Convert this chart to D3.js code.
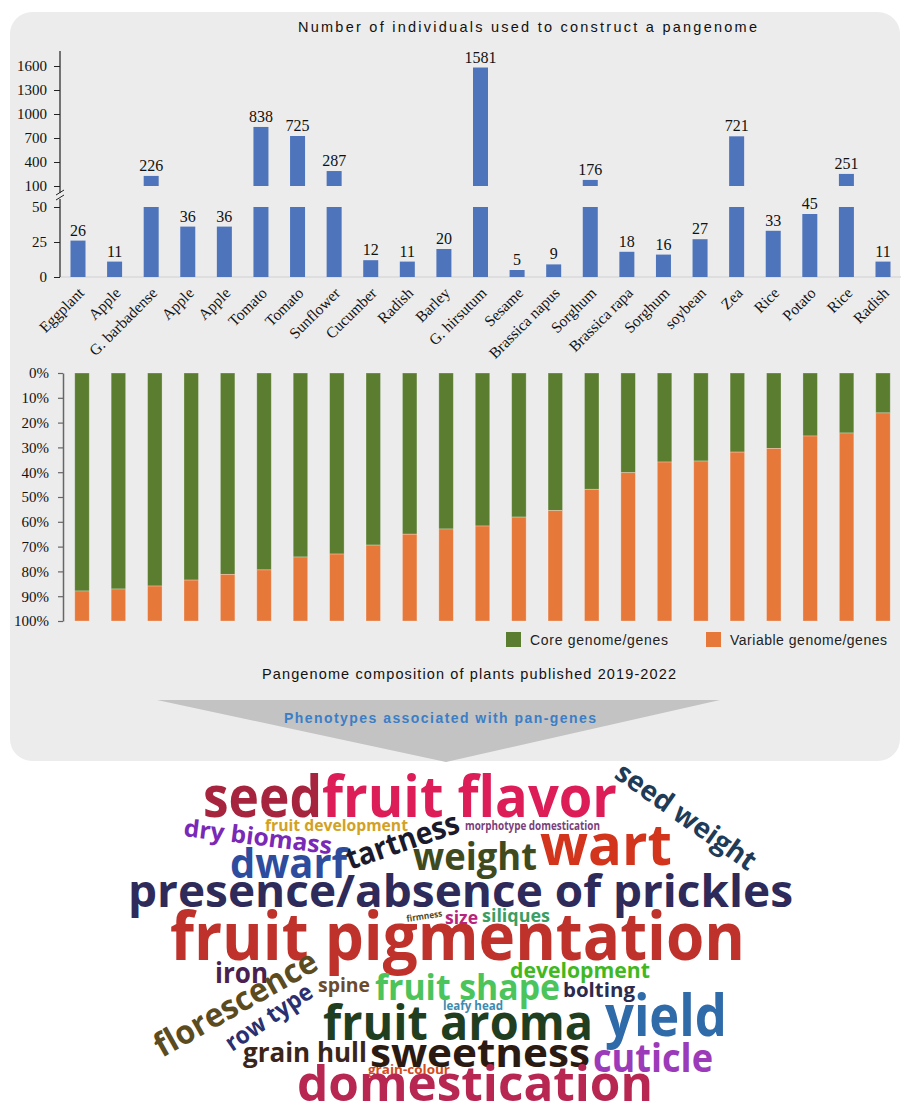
<!DOCTYPE html>
<html><head><meta charset="utf-8">
<script src="https://cdn.jsdelivr.net/npm/d3@7/dist/d3.min.js"></script>
<style>body{margin:0;background:#fff}svg{display:block}</style>
</head><body>
<svg id="c" width="903" height="1115"></svg>
<script>
// ---------- DATA ----------
const species = ["Eggplant","Apple","G. barbadense","Apple","Apple","Tomato","Tomato","Sunflower","Cucumber","Radish","Barley","G. hirsutum","Sesame","Brassica napus","Sorghum","Brassica rapa","Sorghum","soybean","Zea","Rice","Potato","Rice","Radish"];
const individuals = [26,11,226,36,36,838,725,287,12,11,20,1581,5,9,176,18,16,27,721,33,45,251,11];
const lowTicks = [0,25,50];
const highTicks = [100,400,700,1000,1300,1600];
const corePct = [87.9,87.1,85.9,83.5,81.2,79.4,74.2,73.0,69.4,65.0,62.9,61.7,58.1,55.5,46.9,40.2,35.9,35.5,31.9,30.4,25.4,24.2,16.1];
const pctTicks = [0,10,20,30,40,50,60,70,80,90,100];
const seriesNames = ["Core genome/genes","Variable genome/genes"];
const phenotypes = ["seed","fruit flavor","dry biomass","fruit development","tartness","morphotype domestication","seed weight","dwarf","weight","wart","presence/absence of prickles","fruit pigmentation","firmness","size","siliques","iron","florescence","row type","spine","fruit shape","development","bolting","leafy head","fruit aroma","yield","grain hull","sweetness","cuticle","grain-colour","domestication"];

// ---------- LAYOUT / STYLE ----------
const BLUE = "#4e74bb", GREEN = "#5b7d2f", ORANGE = "#e6783a";
const serif = "'Liberation Serif','Times New Roman',serif";
const sans = "'Liberation Sans',Arial,sans-serif";
// word cloud placement: x, baseline y, font size, rotation, fitted width, colour
const cloudLayout = [
 [203, 817, 57, 0, 119, "#a6243d"],
 [322, 817, 57, 0, 295, "#dd1d58"],
 [183, 836, 24, 7, 149, "#7a29b6"],
 [265, 831, 16, 0, 143, "#d3a124"],
 [350, 870, 31, -19, 118, "#1b1a2c"],
 [465, 830, 12, 0, 135, "#7b3f7a"],
 [613, 777, 28, 35, 165, "#1f3b57"],
 [230, 878, 41, 0, 117, "#2d4c9e"],
 [413, 870, 37, 0, 124, "#3f4a1f"],
 [540, 865, 58, 0, 132, "#d3341c"],
 [128, 907, 44, 0, 665, "#2e2b5b"],
 [170, 960, 66, 0, 575, "#bf312b"],
 [407, 922, 9, -9, 36, "#4a4a2a"],
 [445, 924, 17, 0, 33, "#b8247a"],
 [482, 922, 17, 0, 68, "#3a9e62"],
 [215, 983, 28, 0, 53, "#4b1f4f"],
 [162, 1058, 33, -29.5, 182, "#5b4b1f"],
 [232, 1052, 24, -34, 100, "#2b2f6f"],
 [318, 992, 20, 0, 52, "#6b4b2b"],
 [375, 1000, 35, 0, 185, "#4bc45b"],
 [510, 978, 21, 0, 140, "#41b821"],
 [563, 997, 20, 0, 72, "#2b2b4f"],
 [443, 1010, 13, 0, 60, "#3c8bb1"],
 [323, 1040, 49, 0, 270, "#1f3f20"],
 [605, 1036, 58, 0, 122, "#2f6aa9"],
 [243, 1062, 26, 0, 124, "#3b2519"],
 [370, 1067, 40, 0, 220, "#2b1a11"],
 [593, 1072, 40, 0, 120, "#9b3bb9"],
 [368, 1074, 13, 0, 82, "#d54b1b"],
 [297, 1101, 48, 0, 356, "#b82752"]
];

const svg = d3.select("#c");

// panel background
svg.append("rect").attr("x",10).attr("y",12).attr("width",890).attr("height",749)
  .attr("rx",22).attr("fill","#ececec");

// ---------- TOP CHART ----------
svg.append("text").attr("x",298).attr("y",32).attr("textLength",459).attr("lengthAdjust","spacing")
  .attr("font-family",sans).attr("font-size",14.5).attr("fill","#111")
  .text("Number of individuals used to construct a pangenome");

const x = d3.scalePoint().domain(d3.range(species.length)).range([78,883]);
const yLow = d3.scaleLinear().domain([0,50]).range([277,207]);
const yHigh = d3.scaleLinear().domain([100,1600]).range([186,66]);
const bw = 15;

// baseline
svg.append("line").attr("x1",60).attr("x2",901).attr("y1",yLow(0)).attr("y2",yLow(0))
  .attr("stroke","#cfcfcf").attr("stroke-width",1.2);

const gTop = svg.append("g");
gTop.selectAll("rect.low").data(individuals).join("rect").attr("class","low")
  .attr("x",(d,i)=>x(i)-bw/2).attr("width",bw)
  .attr("y",d=>yLow(Math.min(d,50))).attr("height",d=>yLow(0)-yLow(Math.min(d,50)))
  .attr("fill",BLUE);
gTop.selectAll("rect.high").data(individuals.map((d,i)=>({d,i})).filter(o=>o.d>100)).join("rect").attr("class","high")
  .attr("x",o=>x(o.i)-bw/2).attr("width",bw)
  .attr("y",o=>yHigh(o.d)).attr("height",o=>yHigh(100)-yHigh(o.d))
  .attr("fill",BLUE);
gTop.selectAll("text.val").data(individuals).join("text").attr("class","val")
  .attr("x",(d,i)=>x(i)).attr("text-anchor","middle")
  .attr("y",d=>(d>100?yHigh(d):yLow(Math.min(d,50)))-5)
  .attr("font-family",serif).attr("font-size",16).attr("fill","#111")
  .text(d=>d);

// axes
const fmt = d3.format("d");
const axLow = svg.append("g").attr("transform","translate(60,0)")
  .call(d3.axisLeft(yLow).tickValues(lowTicks).tickFormat(fmt).tickSize(6).tickPadding(7));
const axHigh = svg.append("g").attr("transform","translate(60,0)")
  .call(d3.axisLeft(yHigh).tickValues(highTicks).tickFormat(fmt).tickSize(6).tickPadding(7));
[axLow,axHigh].forEach(a=>{
  a.select(".domain").remove();
  a.selectAll("text").attr("font-family",serif).attr("font-size",15).attr("fill","#111");
  a.selectAll("line").attr("stroke","#222");
});
svg.append("line").attr("x1",60).attr("x2",60).attr("y1",51).attr("y2",193).attr("stroke","#222").attr("stroke-width",1.2);
svg.append("line").attr("x1",60).attr("x2",60).attr("y1",199).attr("y2",yLow(0)).attr("stroke","#222").attr("stroke-width",1.2);
svg.append("line").attr("x1",56).attr("x2",64).attr("y1",195).attr("y2",190).attr("stroke","#222");
svg.append("line").attr("x1",56).attr("x2",64).attr("y1",200).attr("y2",195).attr("stroke","#222");

// x labels
svg.selectAll("text.cat").data(species).join("text").attr("class","cat")
  .attr("transform",(d,i)=>`translate(${x(i)+7},294) rotate(-45)`)
  .attr("text-anchor","end").attr("font-family",serif).attr("font-size",15.5).attr("fill","#111")
  .text(d=>d);

// ---------- STACKED CHART ----------
const xs = d3.scalePoint().domain(d3.range(corePct.length)).range([82,883]);
const ys = d3.scaleLinear().domain([0,100]).range([373,621]);
const sw = 14.5;
const st = svg.append("g");
st.selectAll("rect.core").data(corePct).join("rect").attr("class","core")
  .attr("x",(d,i)=>xs(i)-sw/2).attr("width",sw)
  .attr("y",ys(0)).attr("height",d=>ys(d)-ys(0))
  .attr("fill",GREEN).attr("stroke","#fff").attr("stroke-opacity",0.35).attr("stroke-width",0.8);
st.selectAll("rect.var").data(corePct).join("rect").attr("class","var")
  .attr("x",(d,i)=>xs(i)-sw/2).attr("width",sw)
  .attr("y",d=>ys(d)).attr("height",d=>ys(100)-ys(d))
  .attr("fill",ORANGE).attr("stroke","#fff").attr("stroke-opacity",0.35).attr("stroke-width",0.8);

const axP = svg.append("g").attr("transform","translate(63,0)")
  .call(d3.axisLeft(ys).tickValues(pctTicks).tickFormat(d=>d+"%").tickSize(5).tickSizeOuter(0).tickPadding(9));
axP.select(".domain").attr("stroke","#666").attr("stroke-width",1.5);
axP.selectAll("line").attr("stroke","#666").attr("stroke-width",1.2);
axP.selectAll("text").attr("font-family",serif).attr("font-size",15).attr("fill","#111");

// legend
const legX = [506,706], legW = [138,157];
seriesNames.forEach((n,i)=>{
  svg.append("rect").attr("x",legX[i]).attr("y",632).attr("width",15).attr("height",15)
    .attr("fill",i===0?GREEN:ORANGE);
  svg.append("text").attr("x",legX[i]+24).attr("y",645).attr("textLength",legW[i]).attr("lengthAdjust","spacing")
    .attr("font-family",sans).attr("font-size",14).attr("fill","#222").text(n);
});

svg.append("text").attr("x",262).attr("y",679).attr("textLength",414).attr("lengthAdjust","spacing")
  .attr("font-family",sans).attr("font-size",14.5).attr("fill","#111")
  .text("Pangenome composition of plants published 2019-2022");

// funnel
svg.append("path").attr("d","M157,700 L720,700 L446,762 Z").attr("fill","#c3c3c3");
svg.append("text").attr("x",284).attr("y",723).attr("textLength",312).attr("lengthAdjust","spacing")
  .attr("font-family",sans).attr("font-weight","bold").attr("font-size",14).attr("fill","#3b7ec6")
  .text("Phenotypes associated with pan-genes");

// ---------- WORD CLOUD ----------
svg.append("g").selectAll("text").data(phenotypes).join("text")
  .attr("transform",(d,i)=>`translate(${cloudLayout[i][0]},${cloudLayout[i][1]}) rotate(${cloudLayout[i][3]})`)
  .attr("font-family","'Open Sans',sans-serif").attr("font-weight",700)
  .attr("font-size",(d,i)=>cloudLayout[i][2])
  .attr("textLength",(d,i)=>cloudLayout[i][4]).attr("lengthAdjust","spacingAndGlyphs")
  .attr("fill",(d,i)=>cloudLayout[i][5])
  .text(d=>d);
</script>
</body></html>
